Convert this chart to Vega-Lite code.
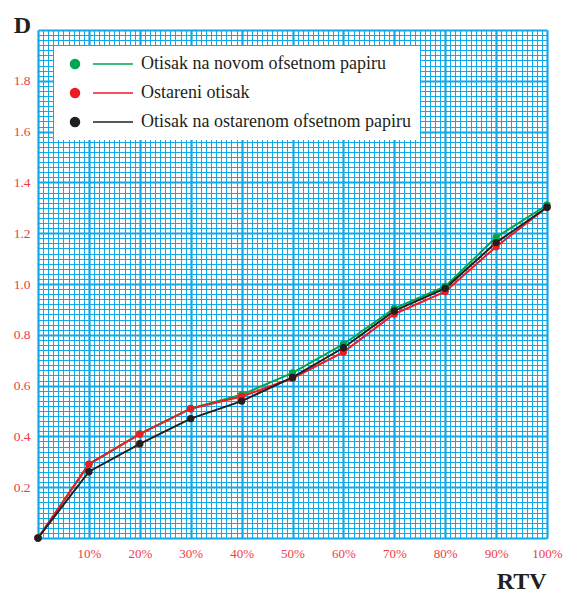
{
  "$schema": "https://vega.github.io/schema/vega-lite/v6.json",
  "autosize": {"type": "none"},
  "width": 509,
  "height": 508,
  "padding": {"left": 38, "top": 30, "right": 27, "bottom": 56},
  "background": "white",
  "config": {
    "view": {"stroke": null},
    "font": "Liberation Serif"
  },
  "data": {
    "values": [
      {"rtv": 0, "d": 0, "s": "Otisak na novom ofsetnom papiru"},
      {"rtv": 10, "d": 0.29, "s": "Otisak na novom ofsetnom papiru"},
      {"rtv": 20, "d": 0.41, "s": "Otisak na novom ofsetnom papiru"},
      {"rtv": 30, "d": 0.51, "s": "Otisak na novom ofsetnom papiru"},
      {"rtv": 40, "d": 0.564, "s": "Otisak na novom ofsetnom papiru"},
      {"rtv": 50, "d": 0.65, "s": "Otisak na novom ofsetnom papiru"},
      {"rtv": 60, "d": 0.763, "s": "Otisak na novom ofsetnom papiru"},
      {"rtv": 70, "d": 0.904, "s": "Otisak na novom ofsetnom papiru"},
      {"rtv": 80, "d": 0.99, "s": "Otisak na novom ofsetnom papiru"},
      {"rtv": 90, "d": 1.184, "s": "Otisak na novom ofsetnom papiru"},
      {"rtv": 100, "d": 1.311, "s": "Otisak na novom ofsetnom papiru"},
      {"rtv": 0, "d": 0, "s": "Ostareni otisak"},
      {"rtv": 10, "d": 0.291, "s": "Ostareni otisak"},
      {"rtv": 20, "d": 0.409, "s": "Ostareni otisak"},
      {"rtv": 30, "d": 0.509, "s": "Ostareni otisak"},
      {"rtv": 40, "d": 0.557, "s": "Ostareni otisak"},
      {"rtv": 50, "d": 0.629, "s": "Ostareni otisak"},
      {"rtv": 60, "d": 0.732, "s": "Ostareni otisak"},
      {"rtv": 70, "d": 0.882, "s": "Ostareni otisak"},
      {"rtv": 80, "d": 0.97, "s": "Ostareni otisak"},
      {"rtv": 90, "d": 1.147, "s": "Ostareni otisak"},
      {"rtv": 100, "d": 1.302, "s": "Ostareni otisak"},
      {"rtv": 0, "d": 0, "s": "Otisak na ostarenom ofsetnom papiru"},
      {"rtv": 10, "d": 0.261, "s": "Otisak na ostarenom ofsetnom papiru"},
      {"rtv": 20, "d": 0.371, "s": "Otisak na ostarenom ofsetnom papiru"},
      {"rtv": 30, "d": 0.47, "s": "Otisak na ostarenom ofsetnom papiru"},
      {"rtv": 40, "d": 0.539, "s": "Otisak na ostarenom ofsetnom papiru"},
      {"rtv": 50, "d": 0.632, "s": "Otisak na ostarenom ofsetnom papiru"},
      {"rtv": 60, "d": 0.749, "s": "Otisak na ostarenom ofsetnom papiru"},
      {"rtv": 70, "d": 0.894, "s": "Otisak na ostarenom ofsetnom papiru"},
      {"rtv": 80, "d": 0.983, "s": "Otisak na ostarenom ofsetnom papiru"},
      {"rtv": 90, "d": 1.163, "s": "Otisak na ostarenom ofsetnom papiru"},
      {"rtv": 100, "d": 1.302, "s": "Otisak na ostarenom ofsetnom papiru"}
    ]
  },
  "encoding": {
    "x": {
      "field": "rtv",
      "type": "quantitative",
      "scale": {"domain": [0, 100], "nice": false, "zero": false},
      "axis": {
        "tickCount": 100,
        "grid": true,
        "gridColor": "#12A8E8",
        "gridOpacity": 1,
        "gridWidth": {"condition": {"test": "round(datum.value) % 10 === 0", "value": 2.2}, "value": 1},
        "ticks": false,
        "domain": false,
        "labelExpr": "round(datum.value) % 10 === 0 && datum.value > 0.5 ? round(datum.value) + '%' : ''",
        "labelOverlap": false,
        "labelFlush": false,
        "labelFont": "Liberation Serif",
        "labelFontSize": 13,
        "labelColor": "#EC3D47",
        "labelPadding": 9,
        "labelDx": 2,
        "title": "RTV",
        "titleFont": "Liberation Serif",
        "titleFontSize": 24,
        "titleFontWeight": "bold",
        "titleColor": "#231F20",
        "titleAlign": "right",
        "titleAnchor": null,
        "titleBaseline": "alphabetic",
        "titleX": 508,
        "titleY": 50
      }
    },
    "y": {
      "field": "d",
      "type": "quantitative",
      "scale": {"domain": [0, 2], "nice": false, "zero": false},
      "axis": {
        "tickCount": 100,
        "grid": true,
        "gridColor": "#12A8E8",
        "gridOpacity": 1,
        "gridWidth": {"condition": {"test": "round(datum.value * 50) % 10 === 0", "value": 2.2}, "value": 1},
        "ticks": false,
        "domain": false,
        "labelExpr": "round(datum.value * 50) % 10 === 0 && datum.value > 0.01 && datum.value < 1.99 ? format(datum.value, '.1f') : ''",
        "labelOverlap": false,
        "labelFlush": false,
        "labelFont": "Liberation Serif",
        "labelFontSize": 13.5,
        "labelColor": "#EC3D47",
        "labelPadding": 8,
        "title": "D",
        "titleFont": "Liberation Serif",
        "titleFontSize": 24,
        "titleFontWeight": "bold",
        "titleColor": "#231F20",
        "titleAngle": 0,
        "titleAlign": "center",
        "titleAnchor": null,
        "titleBaseline": "alphabetic",
        "titleX": -16,
        "titleY": 2
      }
    },
    "color": {
      "field": "s",
      "type": "nominal",
      "sort": ["Otisak na novom ofsetnom papiru", "Ostareni otisak", "Otisak na ostarenom ofsetnom papiru"],
      "scale": {
        "domain": ["Otisak na novom ofsetnom papiru", "Ostareni otisak", "Otisak na ostarenom ofsetnom papiru"],
        "range": ["#00A651", "#ED1C24", "#231F20"]
      },
      "legend": {
        "title": null,
        "orient": "top-left",
        "offset": 16,
        "fillColor": "white",
        "padding": 9,
        "rowPadding": 11,
        "symbolSize": 100,
        "symbolStrokeWidth": 1.5,
        "symbolType": "M-0.3,0A0.9,0.9,0,1,0,1.5,0A0.9,0.9,0,1,0,-0.3,0ZM4.2,0L12.2,0",
        "labelOffset": 60,
        "labelFont": "Liberation Serif",
        "labelFontSize": 18,
        "labelColor": "#231F20",
        "labelLimit": 0,
        "encode": {
          "symbols": {
            "update": {
              "fill": {"scale": "color", "field": "value"},
              "stroke": {"scale": "color", "field": "value"},
              "opacity": {"value": 1},
              "fillOpacity": {"value": 1},
              "strokeWidth": {"value": 1.5}
            }
          }
        }
      }
    }
  },
  "layer": [
    {"mark": {"type": "line", "strokeWidth": 2}},
    {"mark": {"type": "point", "filled": true, "size": 55, "opacity": 1}}
  ]
}
